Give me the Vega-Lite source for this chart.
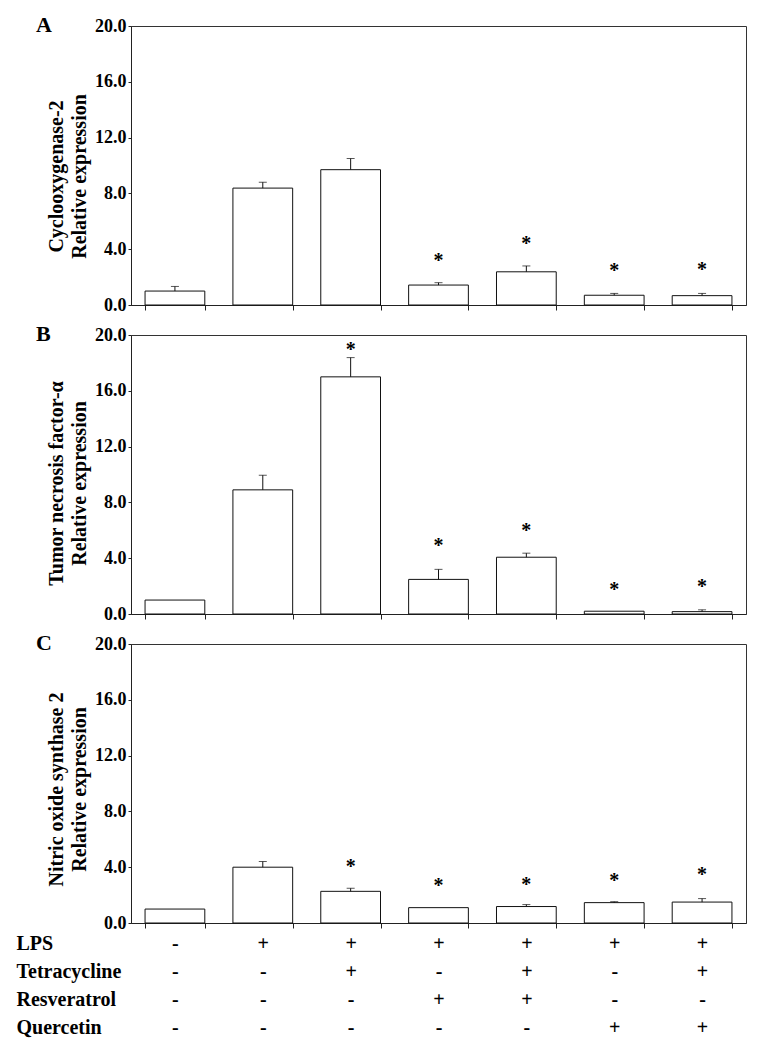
{
  "$schema": "https://vega.github.io/schema/vega-lite/v6.json",
  "padding": {"left": 15, "top": 13, "right": 5, "bottom": 5},
  "background": "white",
  "spacing": 7,
  "config": {
    "view": {"stroke": "#333", "strokeWidth": 1},
    "font": "Liberation Serif",
    "axis": {
      "labelFont": "Liberation Serif", "labelFontWeight": "bold", "labelFontSize": 18, "labelColor": "black",
      "titleFont": "Liberation Serif", "titleFontWeight": "bold", "titleFontSize": 20, "titleColor": "black",
      "domainColor": "#222", "tickColor": "#222", "grid": false, "labelOverlap": false
    },
    "title": {"font": "Liberation Serif", "fontWeight": "bold", "fontSize": 22, "color": "black", "anchor": "start", "frame": "group", "offset": 0, "baseline": "alphabetic", "dx": -95, "dy": 24}
  },
  "datasets": {
    "expr": [
      {"panel": "A", "treatment": "-|-|-|-", "value": 1.0, "upper": 1.33, "star": null},
      {"panel": "A", "treatment": "+|-|-|-", "value": 8.38, "upper": 8.8, "star": null},
      {"panel": "A", "treatment": "+|+|-|-", "value": 9.7, "upper": 10.5, "star": null},
      {"panel": "A", "treatment": "+|-|+|-", "value": 1.43, "upper": 1.6, "star": 3.45},
      {"panel": "A", "treatment": "+|+|+|-", "value": 2.38, "upper": 2.8, "star": 4.67},
      {"panel": "A", "treatment": "+|-|-|+", "value": 0.7, "upper": 0.83, "star": 2.74},
      {"panel": "A", "treatment": "+|+|-|+", "value": 0.67, "upper": 0.83, "star": 2.76},
      {"panel": "B", "treatment": "-|-|-|-", "value": 1.0, "upper": null, "star": null},
      {"panel": "B", "treatment": "+|-|-|-", "value": 8.9, "upper": 9.95, "star": null},
      {"panel": "B", "treatment": "+|+|-|-", "value": 17.0, "upper": 18.38, "star": 19.2},
      {"panel": "B", "treatment": "+|-|+|-", "value": 2.48, "upper": 3.2, "star": 5.13},
      {"panel": "B", "treatment": "+|+|+|-", "value": 4.07, "upper": 4.36, "star": 6.25},
      {"panel": "B", "treatment": "+|-|-|+", "value": 0.2, "upper": null, "star": 2.03},
      {"panel": "B", "treatment": "+|+|-|+", "value": 0.17, "upper": 0.3, "star": 2.2},
      {"panel": "C", "treatment": "-|-|-|-", "value": 1.0, "upper": null, "star": null},
      {"panel": "C", "treatment": "+|-|-|-", "value": 4.0, "upper": 4.4, "star": null},
      {"panel": "C", "treatment": "+|+|-|-", "value": 2.27, "upper": 2.49, "star": 4.28},
      {"panel": "C", "treatment": "+|-|+|-", "value": 1.1, "upper": null, "star": 2.92},
      {"panel": "C", "treatment": "+|+|+|-", "value": 1.18, "upper": 1.32, "star": 3.01},
      {"panel": "C", "treatment": "+|-|-|+", "value": 1.46, "upper": 1.53, "star": 3.33},
      {"panel": "C", "treatment": "+|+|-|+", "value": 1.5, "upper": 1.75, "star": 3.7}
    ]
  },
  "vconcat": [
    {
      "width": 615, "height": 279,
      "title": {"text": "A"},
      "data": {"name": "expr"},
      "transform": [{"filter": "datum.panel === 'A'"}],
      "encoding": {
        "x": {"field": "treatment", "type": "nominal",
          "scale": {"domain": ["-|-|-|-", "+|-|-|-", "+|+|-|-", "+|-|+|-", "+|+|+|-", "+|-|-|+", "+|+|-|+"], "paddingInner": 0.32, "paddingOuter": 0.16},
          "axis": {"labels": false, "title": null, "tickBand": "extent", "tickSize": 5}}
      },
      "layer": [
        {"mark": {"type": "bar", "fill": "white", "stroke": "#111", "strokeWidth": 1},
         "encoding": {"y": {"field": "value", "type": "quantitative", "scale": {"domain": [0, 20], "nice": false},
           "axis": {"title": ["Cyclooxygenase-2", "Relative expression"], "values": [0, 4, 8, 12, 16, 20], "format": ".1f", "tickSize": 3, "labelPadding": 2, "titlePadding": 5, "titleLineHeight": 23, "titleY": 150}}}},
        {"transform": [{"filter": "datum.upper != null"}], "mark": {"type": "rule", "color": "#111", "strokeWidth": 1},
         "encoding": {"y": {"field": "value", "type": "quantitative"}, "y2": {"field": "upper"}}},
        {"transform": [{"filter": "datum.upper != null"}], "mark": {"type": "tick", "color": "#111", "thickness": 1, "size": 8},
         "encoding": {"y": {"field": "upper", "type": "quantitative"}}},
        {"transform": [{"filter": "datum.star != null"}], "mark": {"type": "text", "text": "*", "fontSize": 20, "fontWeight": "bold", "font": "Liberation Serif", "baseline": "middle", "dy": 4, "color": "black"},
         "encoding": {"y": {"field": "star", "type": "quantitative"}}}
      ]
    },
    {
      "width": 615, "height": 279,
      "title": {"text": "B"},
      "data": {"name": "expr"},
      "transform": [{"filter": "datum.panel === 'B'"}],
      "encoding": {
        "x": {"field": "treatment", "type": "nominal",
          "scale": {"domain": ["-|-|-|-", "+|-|-|-", "+|+|-|-", "+|-|+|-", "+|+|+|-", "+|-|-|+", "+|+|-|+"], "paddingInner": 0.32, "paddingOuter": 0.16},
          "axis": {"labels": false, "title": null, "tickBand": "extent", "tickSize": 5}}
      },
      "layer": [
        {"mark": {"type": "bar", "fill": "white", "stroke": "#111", "strokeWidth": 1},
         "encoding": {"y": {"field": "value", "type": "quantitative", "scale": {"domain": [0, 20], "nice": false},
           "axis": {"title": ["Tumor necrosis factor-α", "Relative expression"], "values": [0, 4, 8, 12, 16, 20], "format": ".1f", "tickSize": 3, "labelPadding": 2, "titlePadding": 5, "titleLineHeight": 23, "titleY": 148}}}},
        {"transform": [{"filter": "datum.upper != null"}], "mark": {"type": "rule", "color": "#111", "strokeWidth": 1},
         "encoding": {"y": {"field": "value", "type": "quantitative"}, "y2": {"field": "upper"}}},
        {"transform": [{"filter": "datum.upper != null"}], "mark": {"type": "tick", "color": "#111", "thickness": 1, "size": 8},
         "encoding": {"y": {"field": "upper", "type": "quantitative"}}},
        {"transform": [{"filter": "datum.star != null"}], "mark": {"type": "text", "text": "*", "fontSize": 20, "fontWeight": "bold", "font": "Liberation Serif", "baseline": "middle", "dy": 4, "color": "black"},
         "encoding": {"y": {"field": "star", "type": "quantitative"}}}
      ]
    },
    {
      "width": 615, "height": 279,
      "title": {"text": "C"},
      "data": {"name": "expr"},
      "transform": [{"filter": "datum.panel === 'C'"}],
      "encoding": {
        "x": {"field": "treatment", "type": "nominal",
          "scale": {"domain": ["-|-|-|-", "+|-|-|-", "+|+|-|-", "+|-|+|-", "+|+|+|-", "+|-|-|+", "+|+|-|+"], "paddingInner": 0.32, "paddingOuter": 0.16},
          "axis": {"labelExpr": "isString(datum.value) ? split(datum.value, '|') : ''", "labelLineHeight": 28, "labelFontSize": 20, "labelPadding": 5, "labelAngle": 0, "labelBaseline": "top",
            "tickBand": "extent", "tickSize": 5,
            "title": ["LPS", "Tetracycline", "Resveratrol", "Quercetin"], "titleX": -115, "titleY": 10, "titleAlign": "left", "titleBaseline": "top", "titleAngle": 0, "titleLineHeight": 28, "titleFontSize": 20}}
      },
      "layer": [
        {"mark": {"type": "bar", "fill": "white", "stroke": "#111", "strokeWidth": 1},
         "encoding": {"y": {"field": "value", "type": "quantitative", "scale": {"domain": [0, 20], "nice": false},
           "axis": {"title": ["Nitric oxide synthase 2", "Relative expression"], "values": [0, 4, 8, 12, 16, 20], "format": ".1f", "tickSize": 3, "labelPadding": 2, "titlePadding": 5, "titleLineHeight": 23, "titleY": 145}}}},
        {"transform": [{"filter": "datum.upper != null"}], "mark": {"type": "rule", "color": "#111", "strokeWidth": 1},
         "encoding": {"y": {"field": "value", "type": "quantitative"}, "y2": {"field": "upper"}}},
        {"transform": [{"filter": "datum.upper != null"}], "mark": {"type": "tick", "color": "#111", "thickness": 1, "size": 8},
         "encoding": {"y": {"field": "upper", "type": "quantitative"}}},
        {"transform": [{"filter": "datum.star != null"}], "mark": {"type": "text", "text": "*", "fontSize": 20, "fontWeight": "bold", "font": "Liberation Serif", "baseline": "middle", "dy": 4, "color": "black"},
         "encoding": {"y": {"field": "star", "type": "quantitative"}}}
      ]
    }
  ]
}
